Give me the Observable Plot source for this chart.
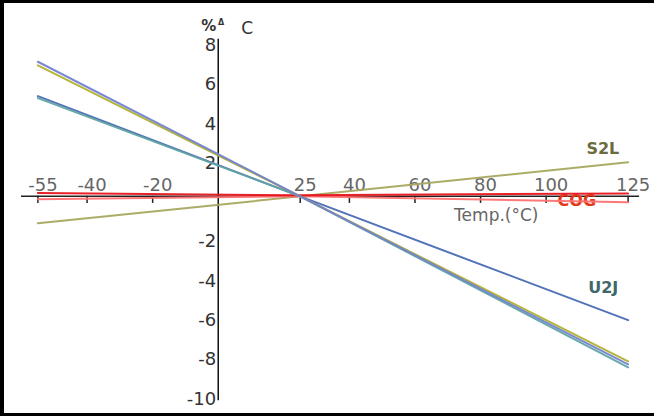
<!DOCTYPE html>
<html>
<head>
<meta charset="utf-8">
<script src="https://cdn.jsdelivr.net/npm/d3@7"></script>
<script src="https://cdn.jsdelivr.net/npm/@observablehq/plot@0.6"></script>
<style>
  html, body { margin: 0; padding: 0; background: #fff; }
  #wrap { position: relative; width: 654px; height: 416px; overflow: hidden; }
  #frame { position: absolute; left: 0; top: 0; width: 654px; height: 416px; box-sizing: border-box;
           border-left: 4px solid #000; border-top: 3px solid #000; border-bottom: 3px solid #000; pointer-events: none; }
  g[aria-label="s2l"] text { letter-spacing: 3px; }
  g[aria-label="u2j"] text { letter-spacing: 3px; }
  g[aria-label="cog"] text { letter-spacing: 5px; }
  g[aria-label="xtitle"] text { letter-spacing: 1.4px; }
</style>
</head>
<body>
<div id="wrap"><div id="chart"></div><div id="frame"></div></div>
<script>
// Temperature points (°C)
const temps = [-55, 25, 125];
// Capacitance change (%ΔC) per series
const seriesBlueViolet = [6.85, 0, -8.55];
const seriesYellow = [6.67, 0, -8.4];
const seriesTeal = [5.0, 0, -8.7];
const seriesU2J = [5.1, 0, -6.3];
const seriesS2L = [-1.37, 0, 1.73];
const seriesCOG1 = [0.17, 0.05, 0.15];
const seriesCOG2 = [-0.15, 0, -0.3];
// Axis ticks
const xTicks = [-55, -40, -20, 25, 40, 60, 80, 100, 125];
const yTicks = [8, 6, 4, 2, -2, -4, -6, -8, -10];

const mk = vals => temps.map((t, i) => ({t, v: vals[i]}));

const line = (vals, color) => Plot.line(mk(vals), {x: "t", y: "v", stroke: color, strokeWidth: 2, strokeOpacity: 0.95});

const chart = Plot.plot({
  width: 654,
  height: 416,
  marginLeft: 21,
  marginRight: 10,
  marginTop: 19,
  marginBottom: 4,
  x: {domain: [-60, 130], axis: null},
  y: {domain: [-11, 9], axis: null},
  style: {fontFamily: "DejaVu Sans, sans-serif", background: "white", overflow: "visible"},
  marks: [
    // axes
    Plot.ruleY([0], {x1: -60, x2: 128.5, stroke: "#222", strokeWidth: 1.5}),
    Plot.ruleX([0], {y1: 8, y2: -10.4, stroke: "#111", strokeWidth: 1.5}),
    Plot.ruleX(xTicks, {x: d => d, y1: 0, y2: -0.36, stroke: "#222", strokeWidth: 1.5}),
    Plot.text(xTicks, {x: d => d, y: 0, text: d => String(d), dx: 5, dy: -11, fill: "#666", fontSize: 18}),
    Plot.text(yTicks, {x: 0, y: d => d, text: d => String(d), textAnchor: "end", dx: -2, dy: 6, fill: "#333", fontSize: 18}),
    // axis titles
    Plot.text(["%"], {x: -2.9, y: 8.65, text: d => d, fill: "#333", fontSize: 15, fontWeight: "bold"}),
    Plot.text(["Δ"], {x: 0.9, y: 8.85, text: d => d, fill: "#333", fontSize: 8, fontWeight: "bold"}),
    Plot.text(["C"], {x: 8.8, y: 8.55, text: d => d, fill: "#333", fontSize: 17}),
    Plot.text(["Temp.(°C)"], {x: 84.8, y: -0.97, text: d => d, fill: "#666", fontSize: 17, ariaLabel: "xtitle"}),
    // series labels
    Plot.text(["COG"], {x: 103.5, y: -0.25, text: d => d, textAnchor: "start", fill: "#e03a1a", fontSize: 16, fontWeight: "bold", ariaLabel: "cog"}),
    Plot.text(["S2L"], {x: 117.3, y: 2.44, text: d => d, fill: "#6b6b3c", fontSize: 16, fontWeight: "bold", ariaLabel: "s2l"}),
    Plot.text(["U2J"], {x: 117.4, y: -4.68, text: d => d, fill: "#3f6868", fontSize: 16, fontWeight: "bold", ariaLabel: "u2j"}),
    // curves
    line(seriesS2L, "#a8a860"),
    line(seriesCOG2, "#ff7070"),
    line(seriesCOG1, "#e8141c"),
    line(seriesU2J, "#4a6cb4"),
    line(seriesTeal, "#5fa3a3"),
    line(seriesYellow, "#b3b030"),
    line(seriesBlueViolet, "#7282d0")
  ]
});
document.getElementById("chart").appendChild(chart);
</script>
</body>
</html>
